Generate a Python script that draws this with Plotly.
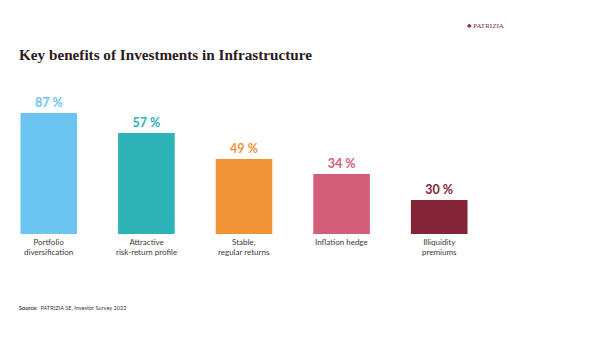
import plotly.graph_objects as go

categories = ["Portfolio<br>diversification", "Attractive<br>risk-return profile",
              "Stable,<br>regular returns", "Inflation hedge", "Illiquidity<br>premiums"]
share_pct = [87, 57, 49, 34, 30]              # values shown on the labels
bar_heights = [87, 72.6, 53.9, 43.1, 24.4]    # bar heights as drawn in the picture
colors = ["#6CC4F0", "#2BB3B8", "#F29236", "#D35E77", "#842437"]

x = list(range(len(categories)))

fig = go.Figure()
fig.add_trace(go.Bar(
    x=x, y=bar_heights, width=0.58,
    marker=dict(color=colors, line=dict(width=0)),
    text=[f"<b>{v} %</b>" for v in share_pct], textposition="outside",
    textfont=dict(family="Lato", size=12.5, color=colors),
    cliponaxis=False, hoverinfo="skip",
))

for i, c in enumerate(categories):
    fig.add_annotation(x=i, y=0, xref="x", yref="paper", yanchor="top", yshift=-1,
                       text=c, showarrow=False,
                       font=dict(family="Lato", size=8, color="#3a3a3a"))

fig.update_layout(
    width=600, height=338,
    margin=dict(l=0, r=112, t=95, b=104),
    paper_bgcolor="white", plot_bgcolor="white",
    showlegend=False, bargap=0.42,
    xaxis=dict(range=[-0.5, 4.5], visible=False),
    yaxis=dict(range=[0, 100], visible=False),
)

fig.add_annotation(x=-0.5, y=1.0, xref="x", yref="paper", showarrow=False,
                   xanchor="left", yanchor="middle", xshift=17, yshift=41,
                   text="<b>Key benefits of Investments in Infrastructure</b>",
                   font=dict(family="Liberation Serif", size=15.2, color="#2b1a20"))
fig.add_annotation(x=1.0, y=1.0, xref="paper", yref="paper", showarrow=False,
                   xanchor="right", yanchor="middle", xshift=18, yshift=69,
                   text="♣ PATRIZIA",
                   font=dict(family="Liberation Serif", size=7, color="#7a2a3c"))
fig.add_annotation(x=-0.5, y=0, xref="x", yref="paper", showarrow=False,
                   xanchor="left", yanchor="middle", xshift=17, yshift=-73,
                   text="<b>Source:</b>  PATRIZIA SE, Investor Survey 2022",
                   font=dict(family="Lato", size=5.6, color="#3a3a3a"))

fig.write_html("out.html")
